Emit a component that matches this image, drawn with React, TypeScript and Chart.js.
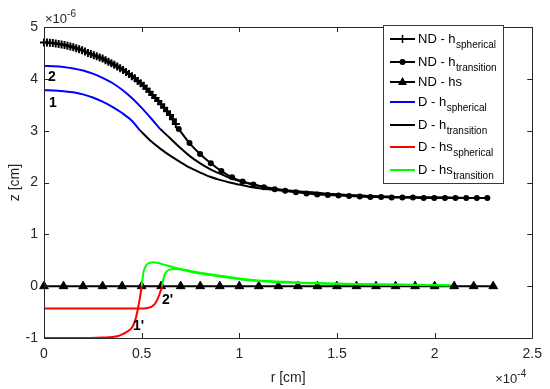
import React, { useEffect, useRef } from 'react';
import { Chart, registerables } from 'chart.js';

Chart.register(...registerables);

// Axis ticks (r in units of 1e-4 cm, z in units of 1e-6 cm)
const xTicks = [0, 0.5, 1, 1.5, 2, 2.5];
const xTickLabels = ['0', '0.5', '1', '1.5', '2', '2.5'];
const yTicks = [-1, 0, 1, 2, 3, 4, 5];
const yTickLabels = ['-1', '0', '1', '2', '3', '4', '5'];
const xExponent = '-4';
const yExponent = '-6';
const xTitle = 'r [cm]';
const yTitle = 'z [cm]';

// Legend names (main text + subscript)
const seriesNames = ['ND - h', 'ND - h', 'ND - hs', 'D - h', 'D - h', 'D - hs', 'D - hs'];
const seriesSubs = ['spherical', 'transition', '', 'spherical', 'transition', 'spherical', 'transition'];
const curveLabels = ['1', '2', "1'", "2'"];

// ND - h spherical (crosses)
const ndSphR = [0, 0.015, 0.03, 0.045, 0.06, 0.075, 0.09, 0.105, 0.12, 0.135, 0.15, 0.165, 0.18, 0.195, 0.21, 0.225, 0.24, 0.255, 0.27, 0.285, 0.30, 0.315, 0.33, 0.345, 0.36, 0.375, 0.39, 0.405, 0.42, 0.435, 0.45, 0.465, 0.48, 0.495, 0.51, 0.525, 0.54, 0.555, 0.57, 0.585, 0.60, 0.615, 0.63, 0.645, 0.66, 0.675];
const ndSphZ = [4.70, 4.70, 4.695, 4.69, 4.68, 4.67, 4.66, 4.655, 4.64, 4.625, 4.61, 4.59, 4.57, 4.55, 4.525, 4.50, 4.48, 4.455, 4.435, 4.41, 4.39, 4.36, 4.33, 4.30, 4.27, 4.24, 4.205, 4.17, 4.13, 4.095, 4.05, 4.01, 3.96, 3.915, 3.865, 3.81, 3.75, 3.69, 3.63, 3.57, 3.51, 3.44, 3.375, 3.30, 3.22, 3.13];

// ND - h transition (dots)
const ndTrR = [0.690, 0.745, 0.799, 0.854, 0.908, 0.963, 1.017, 1.072, 1.126, 1.181, 1.235, 1.290, 1.344, 1.399, 1.453, 1.508, 1.562, 1.617, 1.671, 1.726, 1.780, 1.835, 1.889, 1.944, 1.998, 2.053, 2.107, 2.162, 2.216, 2.270];
const ndTrZ = [3.03, 2.76, 2.55, 2.37, 2.22, 2.10, 2.02, 1.96, 1.91, 1.87, 1.84, 1.81, 1.79, 1.77, 1.76, 1.75, 1.74, 1.73, 1.72, 1.72, 1.71, 1.71, 1.71, 1.70, 1.70, 1.70, 1.70, 1.70, 1.70, 1.70];

// ND - hs (triangles)
const ndHsR = [0, 0.1, 0.2, 0.3, 0.4, 0.5, 0.6, 0.7, 0.8, 0.9, 1.0, 1.1, 1.2, 1.3, 1.4, 1.5, 1.6, 1.7, 1.8, 1.9, 2.0, 2.1, 2.2, 2.3];
const ndHsZ = [0, 0, 0, 0, 0, 0, 0, 0, 0, 0, 0, 0, 0, 0, 0, 0, 0, 0, 0, 0, 0, 0, 0, 0];

// D - h spherical, curves 1 and 2 (blue)
const dSph1R = [0, 0.05, 0.10, 0.15, 0.20, 0.25, 0.30, 0.35, 0.40, 0.45, 0.49];
const dSph1Z = [3.78, 3.775, 3.76, 3.74, 3.70, 3.64, 3.56, 3.46, 3.34, 3.19, 3.01];
const dSph2R = [0, 0.05, 0.10, 0.15, 0.20, 0.25, 0.30, 0.35, 0.40, 0.45, 0.50, 0.55, 0.595];
const dSph2Z = [4.25, 4.245, 4.23, 4.20, 4.16, 4.10, 4.02, 3.92, 3.79, 3.63, 3.44, 3.23, 3.03];

// D - h transition, curves 1 and 2 (black)
const dTr1R = [0.49, 0.55, 0.60, 0.65, 0.70, 0.75, 0.80, 0.85, 0.90, 0.95, 1.00, 1.05, 1.10, 1.15, 1.20, 1.30, 1.40, 1.50, 1.60, 1.80, 2.00, 2.27];
const dTr1Z = [3.01, 2.79, 2.64, 2.51, 2.39, 2.28, 2.19, 2.11, 2.05, 2.00, 1.96, 1.92, 1.89, 1.87, 1.85, 1.82, 1.79, 1.77, 1.75, 1.72, 1.71, 1.70];
const dTr2R = [0.595, 0.65, 0.70, 0.75, 0.80, 0.85, 0.90, 0.95, 1.00, 1.05, 1.10, 1.15, 1.20, 1.30, 1.40, 1.50, 1.60, 1.80, 2.00, 2.27];
const dTr2Z = [3.03, 2.84, 2.66, 2.50, 2.37, 2.26, 2.17, 2.09, 2.03, 1.98, 1.94, 1.90, 1.87, 1.83, 1.80, 1.77, 1.75, 1.72, 1.71, 1.70];

// D - hs spherical, curves 1' and 2' (red)
const dHsSph1R = [0, 0.10, 0.20, 0.30, 0.35, 0.38, 0.40, 0.42, 0.44, 0.45, 0.46, 0.47, 0.48, 0.49, 0.50];
const dHsSph1Z = [-1.00, -1.00, -1.00, -0.99, -0.98, -0.96, -0.93, -0.89, -0.84, -0.80, -0.73, -0.62, -0.45, -0.25, 0.00];
const dHsSph2R = [0, 0.10, 0.20, 0.30, 0.40, 0.50, 0.53, 0.55, 0.56, 0.57, 0.58, 0.59, 0.60, 0.605];
const dHsSph2Z = [-0.43, -0.43, -0.43, -0.43, -0.43, -0.43, -0.42, -0.40, -0.37, -0.33, -0.26, -0.17, -0.06, 0.00];

// D - hs transition, curves 1' and 2' (green)
const dHsTr1R = [0.50, 0.505, 0.51, 0.52, 0.53, 0.54, 0.56, 0.58, 0.60, 0.65, 0.70, 0.80, 0.90, 1.00, 1.10, 1.20, 1.30, 1.40, 1.60, 1.80, 2.08];
const dHsTr1Z = [0.00, 0.15, 0.28, 0.38, 0.43, 0.45, 0.46, 0.45, 0.43, 0.38, 0.33, 0.26, 0.20, 0.15, 0.11, 0.09, 0.07, 0.06, 0.04, 0.03, 0.02];
const dHsTr2R = [0.605, 0.61, 0.62, 0.63, 0.645, 0.66, 0.68, 0.70, 0.75, 0.80, 0.90, 1.00, 1.10, 1.20, 1.30, 1.40, 1.60, 1.80, 2.08];
const dHsTr2Z = [0.00, 0.12, 0.24, 0.29, 0.32, 0.33, 0.33, 0.32, 0.28, 0.245, 0.185, 0.135, 0.10, 0.075, 0.06, 0.05, 0.035, 0.025, 0.015];

const FONT = '"Liberation Sans", Arial, Helvetica, sans-serif';
const AXIS_COLOR = '#262626';

function pts(r: number[], z: number[]) {
  return r.map((x, i) => ({ x, y: z[i] }));
}

function line(r: number[], z: number[], color: string, order: number, extra: any = {}) {
  return {
    data: pts(r, z),
    borderColor: color,
    backgroundColor: color,
    borderWidth: 2,
    pointRadius: 0,
    cubicInterpolationMode: 'monotone',
    clip: false,
    order,
    ...extra,
  };
}

function drawMarker(ctx: CanvasRenderingContext2D, kind: string, x: number, y: number) {
  ctx.save();
  ctx.fillStyle = '#000';
  ctx.strokeStyle = '#000';
  ctx.lineWidth = 1.5;
  if (kind === 'cross') {
    ctx.beginPath();
    ctx.moveTo(x - 4, y);
    ctx.lineTo(x + 4, y);
    ctx.moveTo(x, y - 4);
    ctx.lineTo(x, y + 4);
    ctx.stroke();
  } else if (kind === 'circle') {
    ctx.beginPath();
    ctx.arc(x, y, 3, 0, Math.PI * 2);
    ctx.fill();
  } else if (kind === 'triangle') {
    ctx.beginPath();
    ctx.moveTo(x, y - 5);
    ctx.lineTo(x + 4.5, y + 3);
    ctx.lineTo(x - 4.5, y + 3);
    ctx.closePath();
    ctx.fill();
  }
  ctx.restore();
}

const framePlugin = {
  id: 'matlabFrame',
  afterDatasetsDraw(chart: any) {
    const { ctx, chartArea } = chart;
    const { left, right, top, bottom } = chartArea;
    const xs = chart.scales.x;
    const ys = chart.scales.y;
    ctx.save();
    ctx.strokeStyle = AXIS_COLOR;
    ctx.lineWidth = 1;
    ctx.beginPath();
    ctx.rect(Math.round(left) + 0.5, Math.round(top) + 0.5, Math.round(right - left), Math.round(bottom - top));
    ctx.stroke();
    ctx.beginPath();
    const tl = 5;
    xTicks.forEach((v) => {
      const px = Math.round(xs.getPixelForValue(v)) + 0.5;
      ctx.moveTo(px, bottom);
      ctx.lineTo(px, bottom - tl);
      ctx.moveTo(px, top);
      ctx.lineTo(px, top + tl);
    });
    yTicks.forEach((v) => {
      const py = Math.round(ys.getPixelForValue(v)) + 0.5;
      ctx.moveTo(left, py);
      ctx.lineTo(left + tl, py);
      ctx.moveTo(right, py);
      ctx.lineTo(right - tl, py);
    });
    ctx.stroke();
    ctx.restore();
  },
  afterDraw(chart: any) {
    const { ctx, chartArea } = chart;
    const { left, right, top, bottom } = chartArea;
    ctx.save();
    ctx.fillStyle = AXIS_COLOR;
    ctx.textBaseline = 'alphabetic';

    // Axis titles
    ctx.font = `14px ${FONT}`;
    ctx.textAlign = 'center';
    ctx.fillText(xTitle, (left + right) / 2, 382);
    ctx.save();
    ctx.translate(19, (top + bottom) / 2);
    ctx.rotate(-Math.PI / 2);
    ctx.fillText(yTitle, 0, 0);
    ctx.restore();

    // Exponent labels
    ctx.textAlign = 'left';
    ctx.font = `13px ${FONT}`;
    ctx.fillText('\u00d710', left + 1, 23);
    let w = ctx.measureText('\u00d710').width;
    ctx.font = `10px ${FONT}`;
    ctx.fillText(yExponent, left + 1 + w, 17);
    ctx.font = `13px ${FONT}`;
    ctx.fillText('\u00d710', right - 37, 383);
    w = ctx.measureText('\u00d710').width;
    ctx.font = `10px ${FONT}`;
    ctx.fillText(xExponent, right - 37 + w, 377);

    // Curve labels
    ctx.fillStyle = '#000';
    ctx.font = `bold 14px ${FONT}`;
    const labelPos = [
      [49, 107],
      [48, 81],
      [133, 330],
      [162, 304],
    ];
    curveLabels.forEach((t, i) => ctx.fillText(t, labelPos[i][0], labelPos[i][1]));

    // Legend
    const bx = 383.5, by = 25.5, bw = 120, bh = 158;
    ctx.fillStyle = '#fff';
    ctx.fillRect(bx, by, bw, bh);
    ctx.strokeStyle = '#3a3a3a';
    ctx.lineWidth = 1;
    ctx.strokeRect(bx, by, bw, bh);
    const rowY = [39, 62, 82, 102, 125, 147, 170];
    const colors = ['#000', '#000', '#000', '#0000ff', '#000', '#ff0000', '#00ff00'];
    const markers = ['cross', 'circle', 'triangle', '', '', '', ''];
    seriesNames.forEach((name, i) => {
      const y = rowY[i];
      ctx.strokeStyle = colors[i];
      ctx.lineWidth = 2;
      ctx.beginPath();
      ctx.moveTo(390, y);
      ctx.lineTo(415, y);
      ctx.stroke();
      if (markers[i]) drawMarker(ctx, markers[i], 402.5, y);
      ctx.fillStyle = '#000';
      ctx.font = `13px ${FONT}`;
      ctx.fillText(name, 418, y + 4);
      const tw = ctx.measureText(name).width;
      if (seriesSubs[i]) {
        ctx.font = `10px ${FONT}`;
        ctx.fillText(seriesSubs[i], 418 + tw + 0.5, y + 9);
      }
    });
    ctx.restore();
  },
};

export default function App() {
  const canvasRef = useRef<HTMLCanvasElement | null>(null);

  useEffect(() => {
    const canvas = canvasRef.current;
    if (!canvas) return;
    const chart = new Chart(canvas, {
      type: 'line',
      data: {
        datasets: [
          line(ndSphR, ndSphZ, '#000', 6, {
            borderWidth: 2,
            pointStyle: 'cross',
            pointRadius: 4,
            pointBorderWidth: 2,
            pointBorderColor: '#000',
          }),
          line(ndTrR, ndTrZ, '#000', 5, {
            pointStyle: 'circle',
            pointRadius: 3,
            pointBorderWidth: 0,
            pointBackgroundColor: '#000',
          }),
          line(ndHsR, ndHsZ, '#000', 4, {
            pointStyle: 'triangle',
            pointRadius: 5,
            pointBorderWidth: 1,
            pointBackgroundColor: '#000',
            pointBorderColor: '#000',
          }),
          line(dSph1R, dSph1Z, '#0000ff', 3),
          line(dSph2R, dSph2Z, '#0000ff', 3),
          line(dTr1R, dTr1Z, '#000', 2),
          line(dTr2R, dTr2Z, '#000', 2),
          line(dHsSph1R, dHsSph1Z, '#ff0000', 1),
          line(dHsSph2R, dHsSph2Z, '#ff0000', 1),
          line(dHsTr1R, dHsTr1Z, '#00ff00', 0),
          line(dHsTr2R, dHsTr2Z, '#00ff00', 0),
        ] as any,
      },
      options: {
        animation: false,
        responsive: false,
        maintainAspectRatio: false,
        events: [],
        layout: { padding: { top: 27, right: 15, left: 0, bottom: 0 } },
        plugins: { legend: { display: false }, tooltip: { enabled: false } },
        scales: {
          x: {
            type: 'linear',
            min: 0,
            max: 2.5,
            afterBuildTicks: (s: any) => {
              s.ticks = xTicks.map((v) => ({ value: v }));
            },
            afterFit: (s: any) => {
              s.height = 51;
            },
            grid: { display: false, drawTicks: false },
            border: { display: false },
            ticks: {
              padding: 8,
              maxRotation: 0,
              autoSkip: false,
              color: AXIS_COLOR,
              font: { family: FONT, size: 14 },
              callback: (v: any) => xTickLabels[xTicks.indexOf(Number(v))] ?? '',
            },
          },
          y: {
            type: 'linear',
            min: -1,
            max: 5,
            afterBuildTicks: (s: any) => {
              s.ticks = yTicks.map((v) => ({ value: v }));
            },
            afterFit: (s: any) => {
              s.width = 44;
            },
            grid: { display: false, drawTicks: false },
            border: { display: false },
            ticks: {
              padding: 6,
              autoSkip: false,
              color: AXIS_COLOR,
              font: { family: FONT, size: 14 },
              callback: (v: any) => yTickLabels[yTicks.indexOf(Number(v))] ?? '',
            },
          },
        },
      } as any,
      plugins: [framePlugin],
    });
    return () => chart.destroy();
  }, []);

  return (
    <div style={{ position: 'absolute', left: 0, top: 0, width: 550, height: 389, background: '#fff' }}>
      <canvas ref={canvasRef} width={550} height={389} style={{ width: 550, height: 389, display: 'block' }} />
    </div>
  );
}
